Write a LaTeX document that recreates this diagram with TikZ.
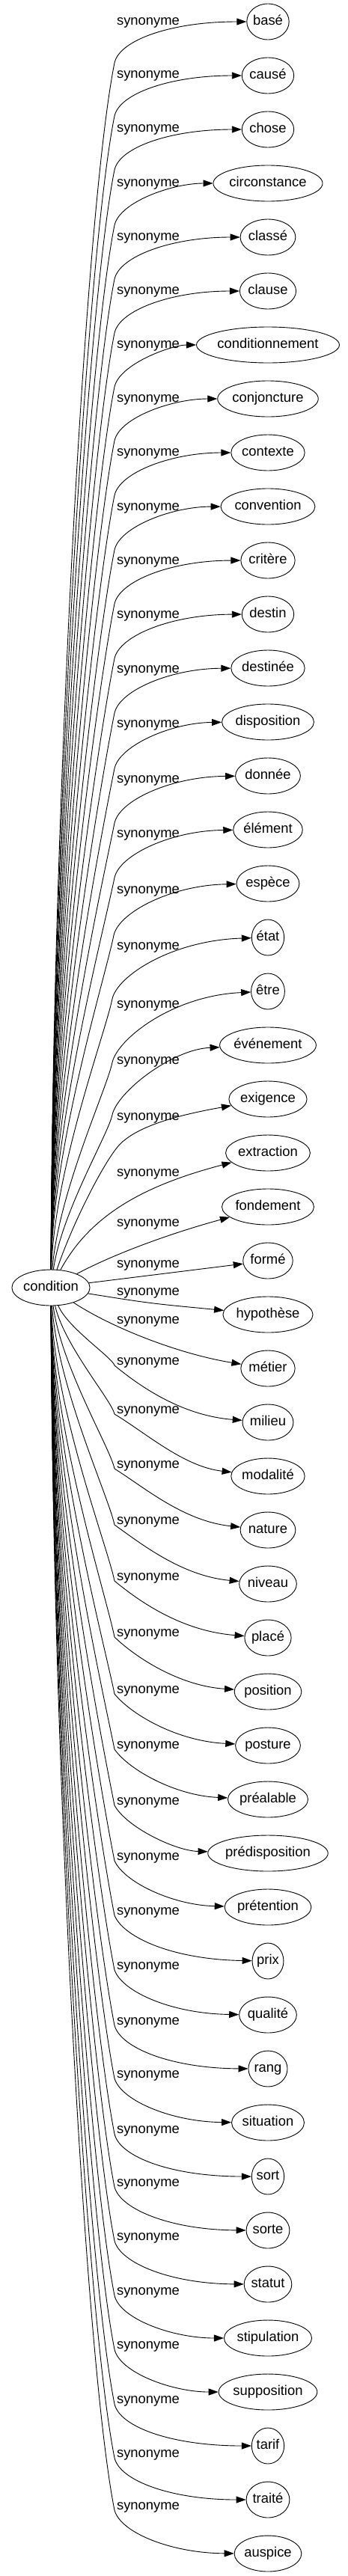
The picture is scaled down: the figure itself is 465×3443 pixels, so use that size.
\documentclass[tikz,border=0pt]{standalone}
\usepackage{fontspec}
\setmainfont{Liberation Sans}
\usetikzlibrary{arrows.meta,shapes.geometric}
\newlength\tlen
\newcommand\nodefont{\fontsize{18.4pt}{22pt}\selectfont}
\tikzset{
  ell/.style={draw, ellipse, line width=0.9pt, inner xsep=0pt, inner ysep=0pt,
    minimum height=48pt, font=\nodefont, text height=13pt, text depth=4pt},
  lab/.style={font=\nodefont, inner sep=0pt, text height=13pt, text depth=4pt},
  synarrow/.style={draw, line width=0.9pt, -{Triangle[length=13pt,width=9pt]}}
}
\begin{document}
\begin{tikzpicture}[x=1pt,y=-1pt]
\useasboundingbox (0,0) rectangle (465,3443);
% central node
\settowidth\tlen{\nodefont condition}
\pgfmathsetmacro\mw{1.26*\tlen+31}
\node[ell, minimum width=\mw pt] (c) at (68,1721) {condition};
% target nodes
\foreach \i/\w in {0/basé,1/causé,2/chose,3/circonstance,4/classé,5/clause,
  6/conditionnement,7/conjoncture,8/contexte,9/convention,10/critère,11/destin,
  12/destinée,13/disposition,14/donnée,15/élément,16/espèce,17/état,18/être,
  19/événement,20/exigence,21/extraction,22/fondement,23/formé,24/hypothèse,
  25/métier,26/milieu,27/modalité,28/nature,29/niveau,30/placé,31/position,
  32/posture,33/préalable,34/prédisposition,35/prétention,36/prix,37/qualité,
  38/rang,39/situation,40/sort,41/sorte,42/statut,43/stipulation,
  44/supposition,45/tarif,46/traité,47/auspice}{
  \settowidth\tlen{\nodefont \w}
  \pgfmathsetmacro\mw{1.26*\tlen+31}
  \pgfmathsetmacro\ty{29+72*\i}
  \node[ell, minimum width=\mw pt] (t\i) at (358,\ty) {\w};
}
% edge labels
\foreach \i/\py in {0/29,1/100,2/172,3/245,4/317,5/389,6/461,7/533,8/605,
  9/678,10/750,11/822,12/895,13/968,14/1042,15/1115,16/1190,17/1265,18/1343,
  19/1418,20/1493,21/1568,22/1635,23/1690,24/1727,25/1765,26/1820,27/1885,
  28/1958,29/2033,30/2108,31/2183,32/2259,33/2333,34/2408,35/2482,36/2555,
  37/2628,38/2702,39/2773,40/2847,41/2918,42/2990,43/3063,44/3135,45/3208,
  46/3280,47/3350}{
  \node[lab] (l\i) at (198,\py) {synonyme};
}
% upper edges
\foreach \i/\py/\pk/\px in {0/29/55/153,1/100/55/153,2/172/55/153,3/245/56/153,
  4/317/56/153,5/389/56/153,6/461/56/153,7/533/56/153,8/605/57/153,
  9/678/57/153,10/750/57/153,11/822/58/153,12/895/58/153,13/968/59/153,
  14/1042/58/153,15/1115/58/153,16/1190/60/152,17/1265/70/150,
  18/1343/77/150,19/1418/72/150}{
  \pgfmathsetmacro\ty{29+72*\i}
  \pgfmathsetmacro\Ky{\py+\pk}
  \pgfmathsetmacro\pd{1697-\Ky}
  \pgfmathsetmacro\ph{0.124*\pd}
  \pgfmathsetmacro\cax{70+25*max(0,1-\pd/400)}
  \pgfmathsetmacro\cay{1697-0.37*\pd}
  \pgfmathsetmacro\cbx{\px-0.2*\ph}
  \pgfmathsetmacro\cby{\Ky+\ph}
  \pgfmathsetmacro\ccx{\px+7}
  \pgfmathsetmacro\ccy{\Ky-31}
  \pgfmathsetmacro\cdy{\ty+0.15*max(0,\Ky-\ty-57)}
  \draw[synarrow] (c) .. controls (\cax,\cay) and (\cbx,\cby) .. (\px,\Ky)
     .. controls (\ccx,\ccy) and (230,\cdy) .. (t\i);
}
% central edges
\draw[synarrow] (c) .. controls (95,1640) and (135,1560) .. (157,1533)
   .. controls (180,1505) and (240,1490) .. (t20);
\draw[synarrow] (c) .. controls (120,1625) and (190,1585) .. (t21);
\draw[synarrow] (c) .. controls (160,1672) and (240,1645) .. (t22);
\draw[synarrow] (c) -- (t23);
\draw[synarrow] (c) .. controls (200,1742) .. (t24);
\draw[synarrow] (c) .. controls (150,1775) and (240,1810) .. (t25);
% lower edges
\foreach \i/\py in {26/1820,27/1885,28/1958,29/2033,30/2108,31/2183,32/2259,
  33/2333,34/2408,35/2482,36/2555,37/2628,38/2702,39/2773,40/2847,41/2918,
  42/2990,43/3063,44/3135,45/3208,46/3280,47/3350}{
  \pgfmathsetmacro\ty{29+72*\i}
  \pgfmathsetmacro\Ky{\py+5}
  \pgfmathsetmacro\pd{\Ky-1745}
  \pgfmathsetmacro\ph{0.124*\pd}
  \pgfmathsetmacro\cax{70+25*max(0,1-\pd/400)}
  \pgfmathsetmacro\cay{1745+0.37*\pd}
  \pgfmathsetmacro\cbx{153-0.2*\ph}
  \pgfmathsetmacro\cby{\Ky-\ph}
  \pgfmathsetmacro\sv{max(0,\ty-\Ky-57)/25}
  \pgfmathsetmacro\ccx{160+33*\sv}
  \pgfmathsetmacro\ccy{\Ky+31-6*\sv}
  \pgfmathsetmacro\cdx{230+15*\sv}
  \pgfmathsetmacro\cdy{\ty-12*\sv}
  \draw[synarrow] (c) .. controls (\cax,\cay) and (\cbx,\cby) .. (153,\Ky)
     .. controls (\ccx,\ccy) and (\cdx,\cdy) .. (t\i);
}
\end{tikzpicture}
\end{document}
